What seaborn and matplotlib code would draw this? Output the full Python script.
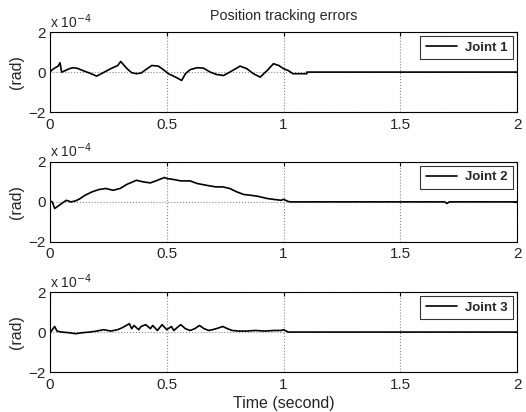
import matplotlib
matplotlib.use("Agg")
import matplotlib.pyplot as plt
import numpy as np
import pandas as pd
import seaborn as sns

# values, y in units of 1e-4 rad
t1 = [0, 0.01, 0.02, 0.035, 0.043, 0.05, 0.055, 0.07, 0.085, 0.1, 0.12, 0.14, 0.17, 0.2,
      0.22, 0.26, 0.29, 0.303, 0.33, 0.35, 0.37, 0.39, 0.41, 0.436, 0.464, 0.486,
      0.507, 0.543, 0.564, 0.58, 0.6, 0.63, 0.657, 0.686, 0.714, 0.743, 0.77, 0.814,
      0.843, 0.871, 0.9, 0.93, 0.957, 0.98, 1.0, 1.02, 1.04, 1.1, 1.1, 2.0]
y1 = [0, 0.12, 0.2, 0.3, 0.47, 0.0, 0.02, 0.1, 0.18, 0.22, 0.18, 0.08, -0.05, -0.2,
      -0.08, 0.17, 0.33, 0.53, 0.17, -0.03, -0.08, -0.05, 0.12, 0.33, 0.3, 0.12,
      -0.08, -0.28, -0.42, -0.08, 0.12, 0.22, 0.2, 0.0, -0.12, -0.17, 0.0, 0.3,
      0.17, -0.08, -0.25, 0.08, 0.42, 0.33, 0.17, 0.08, -0.08, -0.08, 0.0, 0.0]

t2 = [0, 0.01, 0.02, 0.03, 0.05, 0.07, 0.09, 0.11, 0.13, 0.15, 0.18, 0.21, 0.24, 0.27,
      0.3, 0.33, 0.37, 0.4, 0.43, 0.46, 0.49, 0.5, 0.53, 0.56, 0.6, 0.63, 0.67, 0.71,
      0.74, 0.77, 0.8, 0.83, 0.86, 0.89, 0.93, 0.96, 0.99, 1.0, 1.02, 1.03, 1.69,
      1.7, 1.71, 2.0]
y2 = [0.05, 0.0, -0.33, -0.25, -0.08, 0.08, 0.0, 0.05, 0.17, 0.33, 0.5, 0.62, 0.67, 0.58,
      0.67, 0.88, 1.08, 1.0, 0.95, 1.08, 1.22, 1.17, 1.12, 1.05, 1.05, 0.92, 0.83, 0.75,
      0.75, 0.67, 0.5, 0.37, 0.33, 0.28, 0.17, 0.12, 0.08, 0.13, 0.02, 0.0, 0.0,
      -0.08, 0.0, 0.0]

t3 = [0, 0.01, 0.02, 0.03, 0.05, 0.08, 0.11, 0.14, 0.17, 0.2, 0.23, 0.26, 0.29, 0.31,
      0.34, 0.35, 0.36, 0.38, 0.39, 0.41, 0.43, 0.44, 0.46, 0.48, 0.5, 0.52, 0.53,
      0.55, 0.56, 0.58, 0.6, 0.62, 0.64, 0.66, 0.68, 0.7, 0.72, 0.74, 0.76, 0.78,
      0.81, 0.84, 0.88, 0.92, 0.96, 0.99, 1.0, 1.02, 2.0]
y3 = [-0.05, 0.12, 0.28, 0.05, 0.0, -0.03, -0.08, -0.03, 0.0, 0.05, 0.12, 0.05, 0.12, 0.22,
      0.42, 0.17, 0.33, 0.12, 0.28, 0.37, 0.17, 0.33, 0.08, 0.37, 0.12, 0.28, 0.08,
      0.28, 0.37, 0.17, 0.08, 0.17, 0.33, 0.17, 0.08, 0.13, 0.2, 0.28, 0.17, 0.08,
      0.05, 0.05, 0.08, 0.05, 0.08, 0.08, 0.12, 0.0, 0.0]

series = [("Joint 1", t1, y1), ("Joint 2", t2, y2), ("Joint 3", t3, y3)]
yticks = [-2, 0, 2]
xticks = [0, 0.5, 1, 1.5, 2]

sns.set_style("white")
plt.rcParams["font.family"] = ["Liberation Sans", "DejaVu Sans"]

fig = plt.figure(figsize=(5.26, 4.12), dpi=100)
bottoms = [0.728, 0.413, 0.097]

for i, (name, t, y) in enumerate(series):
    ax = fig.add_axes([0.095, bottoms[i], 0.888, 0.194])
    df = pd.DataFrame({"t": t, "err": y})
    sns.lineplot(data=df, x="t", y="err", ax=ax, color="black", linewidth=1.2,
                 sort=False, estimator=None, label=name)
    ax.set_xlim(0, 2)
    ax.set_ylim(-2, 2)
    ax.set_xticks(xticks)
    ax.set_xticklabels(["0", "0.5", "1", "1.5", "2"])
    ax.set_yticks(yticks)
    ax.set_yticklabels(["\u22122", "0", "2"])
    ax.tick_params(axis="x", direction="in", length=3, top=True, labelsize=11,
                   pad=4, color="black")
    ax.tick_params(axis="y", direction="in", length=3, right=True, labelsize=11,
                   pad=3, color="black")
    ax.grid(True, linestyle=":", color="#888888", linewidth=0.8)
    for s in ax.spines.values():
        s.set_color("black")
        s.set_linewidth(0.8)
    ax.set_xlabel("")
    ax.set_ylabel("(rad)", fontsize=11.5, labelpad=3)
    ax.text(0.0, 1.02, "x 10$^{-4}$", transform=ax.transAxes, fontsize=10,
            ha="left", va="bottom")
    leg = ax.legend(loc="upper right", fontsize=9.5, frameon=True, fancybox=False,
                    borderaxespad=0.3, handlelength=2.4, handletextpad=0.6,
                    borderpad=0.4)
    leg.get_frame().set_edgecolor("black")
    leg.get_frame().set_linewidth(0.8)
    for txt in leg.get_texts():
        txt.set_fontweight("bold")
    if i == 0:
        ax.set_title("Position tracking errors", fontsize=10.3, pad=9)
    if i == 2:
        ax.set_xlabel("Time (second)", fontsize=11.5, labelpad=3)

fig.savefig("out.png", dpi=100)
